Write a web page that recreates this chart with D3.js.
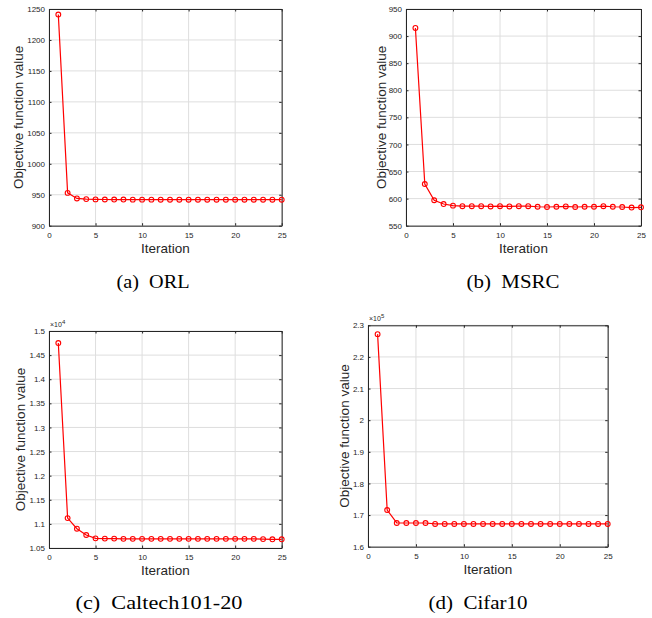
<!DOCTYPE html>
<html>
<head>
<meta charset="utf-8">
<script src="https://cdn.jsdelivr.net/npm/d3@7"></script>
<style>
  body { margin: 0; background: #fff; }
  svg { display: block; }
</style>
</head>
<body>
<div id="chart"></div>
<script>
// iteration numbers shared by every panel
var iterations = d3.range(1, 26)

// objective values
var orlValues = [1241, 953, 944, 943, 942.5, 942.3, 942.2, 942.2, 942.1, 942.1,
  942.1, 942, 942, 942, 942, 942, 942, 942, 942, 942, 942, 942, 942, 942, 942]
var msrcValues = [915, 627, 597, 590, 587, 586, 586, 586, 585.5, 586, 585.5, 586,
  586, 585, 584.5, 585, 585.5, 584.5, 585, 585, 586, 585, 584.5, 583.5, 584]
var caltechValues = [14750, 11120, 10900, 10770, 10700, 10695, 10695, 10690, 10690,
  10690, 10690, 10690, 10690, 10690, 10690, 10690, 10690, 10690, 10690, 10690,
  10690, 10690, 10685, 10680, 10680]
var cifarValues = [227200, 171600, 167500, 167500, 167500, 167500, 167200, 167200,
  167200, 167200, 167200, 167200, 167200, 167200, 167200, 167200, 167200, 167200,
  167200, 167200, 167200, 167200, 167200, 167200, 167200]

var xTicks = [0, 5, 10, 15, 20, 25]
var orlTicks = [900, 950, 1000, 1050, 1100, 1150, 1200, 1250]
var msrcTicks = [550, 600, 650, 700, 750, 800, 850, 900, 950]
var caltechTicks = [1.05, 1.1, 1.15, 1.2, 1.25, 1.3, 1.35, 1.4, 1.45, 1.5]
var cifarTicks = [1.6, 1.7, 1.8, 1.9, 2, 2.1, 2.2, 2.3]

var captions = ['(a)\u2002ORL', '(b)\u2002MSRC', '(c)\u2002Caltech101-20', '(d)\u2002Cifar10']

var width = 652
var height = 618
var axisColor = '#262626'
var gridColor = '#dedede'
var red = '#ff0000'

var svg = d3
  .select('#chart')
  .append('svg')
  .attr('width', width)
  .attr('height', height)

var panels = [
  { values: orlValues, ticks: orlTicks, exp: 0, box: [49, 281.7, 9, 225.7], labelGap: 26,
    caption: captions[0], capX: 153, capY: 288, capW: 73 },
  { values: msrcValues, ticks: msrcTicks, exp: 0, box: [406, 641, 9, 225.7], labelGap: 20,
    caption: captions[1], capX: 513, capY: 288, capW: 93 },
  { values: caltechValues, ticks: caltechTicks, exp: 4, box: [49, 281.7, 331, 548], labelGap: 24,
    caption: captions[2], capX: 159, capY: 609, capW: 167 },
  { values: cifarValues, ticks: cifarTicks, exp: 5, box: [368, 607.7, 325.3, 546.7], labelGap: 19,
    caption: captions[3], capX: 478, capY: 609, capW: 99 }
]

panels.forEach(drawPanel)

function drawPanel(p) {
  var left = p.box[0], right = p.box[1], top = p.box[2], bottom = p.box[3]
  var factor = Math.pow(10, p.exp)
  var data = p.values.map((v, i) => ({ it: iterations[i], v: v / factor }))

  var xScale = d3.scaleLinear().domain([0, 25]).range([left, right])
  var yScale = d3
    .scaleLinear()
    .domain(d3.extent(p.ticks))
    .range([bottom, top])

  var g = svg.append('g')

  // grid
  g.selectAll('.xgrid')
    .data(xTicks)
    .enter()
    .append('line')
    .attr('x1', d => xScale(d))
    .attr('x2', d => xScale(d))
    .attr('y1', top)
    .attr('y2', bottom)
    .attr('stroke', gridColor)
    .attr('stroke-width', 1)

  g.selectAll('.ygrid')
    .data(p.ticks)
    .enter()
    .append('line')
    .attr('x1', left)
    .attr('x2', right)
    .attr('y1', d => yScale(d))
    .attr('y2', d => yScale(d))
    .attr('stroke', gridColor)
    .attr('stroke-width', 1)

  // axes: bottom/left with labels, top/right ticks only (box on)
  var fmt = d => String(+d.toFixed(2))

  var bottomAxis = g
    .append('g')
    .attr('transform', 'translate(0,' + bottom + ')')
    .call(d3.axisBottom(xScale).tickValues(xTicks).tickSizeInner(-2.5).tickSizeOuter(0).tickPadding(5))
  var leftAxis = g
    .append('g')
    .attr('transform', 'translate(' + left + ',0)')
    .call(d3.axisLeft(yScale).tickValues(p.ticks).tickFormat(fmt).tickSizeInner(-2.5).tickSizeOuter(0).tickPadding(4))
  var topAxis = g
    .append('g')
    .attr('transform', 'translate(0,' + top + ')')
    .call(d3.axisTop(xScale).tickValues(xTicks).tickSizeInner(-2.5).tickSizeOuter(0).tickFormat(''))
  var rightAxis = g
    .append('g')
    .attr('transform', 'translate(' + right + ',0)')
    .call(d3.axisRight(yScale).tickValues(p.ticks).tickSizeInner(-2.5).tickSizeOuter(0).tickFormat(''))

  ;[bottomAxis, leftAxis, topAxis, rightAxis].forEach(a => {
    a.select('.domain').attr('stroke', axisColor).attr('stroke-width', 1)
    a.selectAll('.tick line').attr('stroke', axisColor)
    a.selectAll('text')
      .attr('fill', axisColor)
      .attr('font-family', 'Liberation Sans, Arial, sans-serif')
      .attr('font-size', 8)
  })
  bottomAxis.selectAll('text').attr('dy', '0.9em')

  // exponent label
  if (p.exp) {
    var ex = g
      .append('text')
      .attr('x', left + 1)
      .attr('y', top - 4)
      .attr('fill', axisColor)
      .attr('font-family', 'Liberation Sans, Arial, sans-serif')
      .attr('font-size', 7)
      .text('\u00d710')
    ex.append('tspan')
      .attr('dy', -3)
      .attr('font-size', 6)
      .text(p.exp)
  }

  // line + markers
  var line = d3
    .line()
    .x(d => xScale(d.it))
    .y(d => yScale(d.v))

  g.append('path')
    .datum(data)
    .attr('d', line)
    .attr('fill', 'none')
    .attr('stroke', red)
    .attr('stroke-width', 1.2)

  g.selectAll('.marker')
    .data(data)
    .enter()
    .append('circle')
    .attr('cx', d => xScale(d.it))
    .attr('cy', d => yScale(d.v))
    .attr('r', 2.4)
    .attr('fill', 'none')
    .attr('stroke', red)
    .attr('stroke-width', 1.1)

  // axis labels
  g.append('text')
    .attr('x', (left + right) / 2)
    .attr('y', bottom + 27)
    .attr('text-anchor', 'middle')
    .attr('fill', axisColor)
    .attr('font-family', 'Liberation Sans, Arial, sans-serif')
    .attr('font-size', 13.5)
    .text('Iteration')

  g.append('text')
    .attr('transform', 'translate(' + (left - p.labelGap) + ',' + (top + bottom) / 2 + ') rotate(-90)')
    .attr('text-anchor', 'middle')
    .attr('fill', axisColor)
    .attr('font-family', 'Liberation Sans, Arial, sans-serif')
    .attr('font-size', 13.5)
    .text('Objective function value')

  // caption
  g.append('text')
    .attr('x', p.capX)
    .attr('y', p.capY)
    .attr('text-anchor', 'middle')
    .attr('fill', '#000')
    .attr('font-family', 'Liberation Serif, Times New Roman, serif')
    .attr('font-size', 18)
    .attr('textLength', p.capW)
    .attr('lengthAdjust', 'spacingAndGlyphs')
    .text(p.caption)
}
</script>
</body>
</html>
